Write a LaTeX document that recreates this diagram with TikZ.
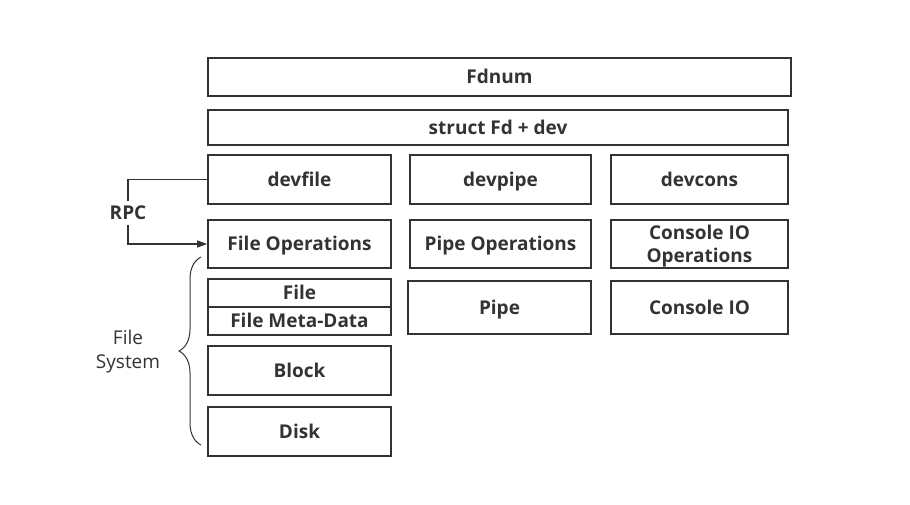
\documentclass[tikz,border=0pt]{standalone}
\usepackage{fontspec}
\setmainfont{Open Sans}
\usetikzlibrary{arrows.meta,decorations.pathreplacing}
\definecolor{lc}{HTML}{333333}
\definecolor{tc}{HTML}{333333}
\begin{document}
\begin{tikzpicture}[x=1pt,y=-1pt,
  box/.style={draw=lc, line width=1.6pt, inner sep=0pt, align=center,
    text=tc, font=\fontsize{19}{23}\selectfont\bfseries,
    text height=13.6pt, text depth=0pt,
    minimum width=183pt, minimum height=49pt},
  lbl/.style={text=tc, align=center, inner sep=1pt},
  conn/.style={draw=lc, line width=1.2pt},
]
\useasboundingbox (0,0) rectangle (910,504);
\node[box, minimum width=583pt, minimum height=38pt] (fdnum) at (499.5,77) {Fdnum};
\node[box, minimum width=580pt, minimum height=35pt] (fd) at (498,127.5) {struct Fd + dev};
\node[box] (devfile) at (299.5,179.5) {devfile};
\node[box, minimum width=181pt] (devpipe) at (500.5,179.5) {devpipe};
\node[box, minimum width=177pt] (devcons) at (699.5,179.5) {devcons};
\node[box, minimum height=48pt] (fileops) at (299.5,244) {File Operations};
\node[box, minimum width=181pt, minimum height=48pt] (pipeops) at (500.5,244) {Pipe Operations};
\node[box, text height=, minimum width=177pt, minimum height=48pt] (consops) at (699.5,244) {Console IO\\Operations};
\node[box, minimum height=28pt] (file) at (299.5,293) {File};
\node[box, minimum height=28pt] (meta) at (299.5,321) {File Meta-Data};
\node[box, minimum height=53pt] (pipe) at (499.5,307.5) {Pipe};
\node[box, minimum width=177pt, minimum height=53pt] (cons) at (699.5,307.5) {Console IO};
\node[box] (block) at (299.5,370.5) {Block};
\node[box] (disk) at (299.5,431.5) {Disk};
% RPC connector
\coordinate (c1) at (128,179.5);
\node[lbl, font=\fontsize{19}{23}\selectfont\bfseries, fill=white, text height=13.6pt, text depth=0pt, inner sep=5pt] (rpc) at (128,213) {RPC};
\draw[conn] (devfile.west) -- (c1) -- (rpc.north);
\draw[conn, -{Triangle[length=10pt,width=7pt]}] (rpc.south) -- (c1 |- fileops.west) -- (fileops.west);
% brace
\coordinate (b1) at (201,445);
\coordinate (b2) at (201,257);
\draw[conn, line width=1pt, decorate, decoration={brace, amplitude=22pt}] (b1) -- (b2);
\node[lbl, font=\fontsize{19}{24}\selectfont] (fs) at (128,352) {File\\System};
\end{tikzpicture}
\end{document}
